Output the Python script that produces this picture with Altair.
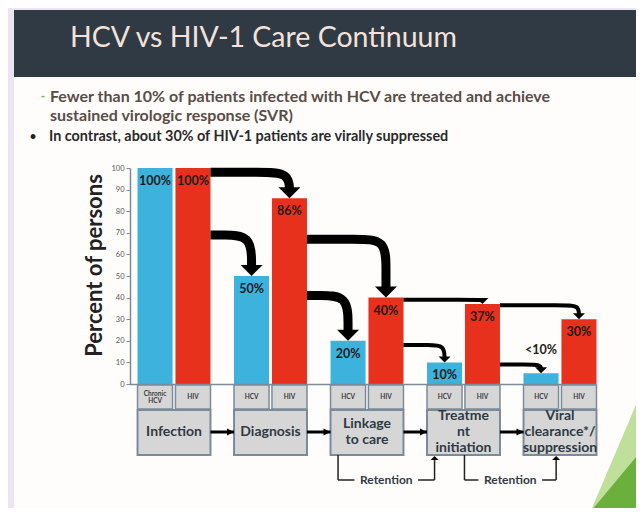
import altair as alt
import pandas as pd

# ---------------- data ----------------
stages = ["Infection", "Diagnosis", "Linkage\nto care", "Treatme\nnt\ninitiation",
          "Viral\nclearance*/\nsuppression"]
hcv_values = [100, 50, 20, 10, 5]
hiv_values = [100, 86, 40, 37, 30]
hcv_labels = ["100%", "50%", "20%", "10%", "<10%"]
hiv_labels = ["100%", "86%", "40%", "37%", "30%"]
hcv_tags = ["Chronic\nHCV", "HCV", "HCV", "HCV", "HCV"]
hiv_tags = ["HIV", "HIV", "HIV", "HIV", "HIV"]
# percent level at which each arrow leaves the HIV bar of a stage
arrow_hiv_levels = [98, 67, 39, 36.5]
arrow_hcv_levels = [69, 41, 18, 9]
retention_from = [2, 3]
retention_to = [3, 4]
retention_text = ["Retention", "Retention"]
title_text = "HCV vs HIV-1 Care Continuum"
bullet_lines = [
    "Fewer than 10% of patients infected with HCV are treated and achieve",
    "sustained virologic response (SVR)",
    "In contrast, about 30% of HIV-1 patients are virally suppressed",
]
y_ticks = list(range(0, 101, 10))

# ---------------- layout / style ----------------
FONT = "Lato"
BLUE = "#3db2dc"
RED = "#e8311d"
BOXFILL = "#d6d6d6"
BOXSTROKE = "#7b8b99"
LAVENDER = "#ece4f2"
HEADER = "#2f3a44"
PANEL = "#fffdfb"

OX, OY = 130, 168          # page position of the plot origin
W, H = 470, 216
PXX = 96.5                 # px per stage
PXY = H / 100.0            # px per percent
XMIN = -44 / PXX
XMAX = XMIN + W / PXX
HALF = 0.378
GAP = 0.015
STAGE_LH = 16
TAG_LH = 7


def px(x):
    return x - OX


def py(y):
    return y - OY


xs = alt.Scale(domain=[XMIN, XMAX], nice=False, zero=False)
ys = alt.Scale(domain=[0, 100], nice=False, zero=False)
one = pd.DataFrame({"a": [0]})

# ---------------- tables ----------------
rows = []
for i in range(5):
    rows.append(dict(stage=i, virus="HCV", x0=i - HALF, x1=i - GAP, value=hcv_values[i],
                     label=hcv_labels[i], tag=hcv_tags[i]))
    rows.append(dict(stage=i, virus="HIV", x0=i + GAP, x1=i + HALF, value=hiv_values[i],
                     label=hiv_labels[i], tag=hiv_tags[i]))
bars_df = pd.DataFrame(rows)
bars_df["xm"] = (bars_df["x0"] + bars_df["x1"]) / 2
bars_df["base"] = 0
bars_df["ty"] = [py(397) - (t.count("\n")) * TAG_LH / 2 for t in bars_df["tag"]]

stage_df = pd.DataFrame({"i": list(range(5)), "stage": stages})
stage_df["x0"] = stage_df["i"] - HALF
stage_df["x1"] = stage_df["i"] + HALF
stage_df["ty"] = [py(432) - s.count("\n") * STAGE_LH / 2 for s in stages]

link_df = pd.DataFrame({"i": list(range(4))})
link_df["x0"] = link_df["i"] + HALF
link_df["x1"] = link_df["i"] + 1 - HALF

# curved care-continuum arrows
line_rows, head_rows = [], []
aid = 0
for i in range(4):
    thick = i < 2
    w = 9 if thick else 4
    c = 30 if thick else 16
    hr = 5.5 if thick else 3
    xstart = i + HALF
    for y0, xc, ye in [
        (arrow_hiv_levels[i], i + 1 + (GAP + HALF) / 2, hiv_values[i + 1]),
        (arrow_hcv_levels[i], i + 1 - (GAP + HALF) / 2, hcv_values[i + 1]),
    ]:
        yend = min(ye + hr / PXY, y0 - 0.3)
        ycorner = max(y0 - c / PXY, yend)
        pts = [(xstart, y0), (xc - c / PXX, y0), (xc, y0), (xc, ycorner), (xc, yend)]
        for k, (x, y) in enumerate(pts):
            line_rows.append(dict(id=aid, k=k, x=x, y=y, w=w))
        head_rows.append(dict(id=aid, x=xc, y=ye, thick=thick))
        aid += 1
lines_df = pd.DataFrame(line_rows)
heads_df = pd.DataFrame(head_rows)

ret_df = pd.DataFrame({"a": retention_from, "b": retention_to, "t": retention_text})
ret_df["xa"] = ret_df["a"] + pd.Series([-0.30, 0.01])
ret_df["xb"] = ret_df["b"] + pd.Series([-0.30, -0.04])
ret_df["xm"] = (ret_df["xa"] + ret_df["xb"]) / 2
ret_df["tl"] = ret_df["xm"] - 0.33
ret_df["tr"] = ret_df["xm"] + 0.33

yaxis = alt.Axis(values=y_ticks, title="Percent of persons", titleFont=FONT, titleFontSize=22,
                 titleFontWeight="bold", titleColor="#222222", titlePadding=4, titleY=97,
                 labelFont=FONT, labelFontSize=7.5, labelColor="#555555", labelPadding=2,
                 tickSize=4, tickColor=BOXSTROKE, domainColor=BOXSTROKE, domainWidth=1.5,
                 grid=False, zindex=2)

# ---------------- slide decoration ----------------
panel = alt.Chart(one).mark_rect(color=PANEL).encode(
    x=alt.value(px(14)), x2=alt.value(px(650)), y=alt.value(py(77)), y2=alt.value(py(520)))
header = alt.Chart(one).mark_rect(color=HEADER).encode(
    x=alt.value(px(14)), x2=alt.value(px(650)), y=alt.value(py(10)), y2=alt.value(py(77)))
title = alt.Chart(one).mark_text(text=title_text, font=FONT, fontSize=28.5, color="#f4e2da",
                                 align="left", baseline="middle").encode(
    x=alt.value(px(70)), y=alt.value(py(38)))
b1 = alt.Chart(one).mark_text(text=bullet_lines[0], font=FONT, fontSize=16, fontWeight="bold",
                              color="#5a4c46", align="left", baseline="middle").encode(
    x=alt.value(px(50)), y=alt.value(py(97)))
b2 = alt.Chart(one).mark_text(text=bullet_lines[1], font=FONT, fontSize=16, fontWeight="bold",
                              color="#5a4c46", align="left", baseline="middle").encode(
    x=alt.value(px(50)), y=alt.value(py(116)))
b3 = alt.Chart(one).mark_text(text=bullet_lines[2], font=FONT, fontSize=14.4, fontWeight="bold",
                              color="#2a2a2a", align="left", baseline="middle").encode(
    x=alt.value(px(49)), y=alt.value(py(137)))
dash = alt.Chart(one).mark_text(text="-", font=FONT, fontSize=13, fontWeight="bold",
                                color="#7cc46a", align="center", baseline="middle").encode(
    x=alt.value(px(43)), y=alt.value(py(97)))
dot = alt.Chart(one).mark_text(text="\u2022", font=FONT, fontSize=13, color="#222222",
                               align="center", baseline="middle").encode(
    x=alt.value(px(33)), y=alt.value(py(137)))

green_df = pd.DataFrame({"x": [px(592), px(650)], "yl": [py(508), py(372)],
                         "yb": [py(520), py(520)]})
green_df2 = pd.DataFrame({"x": [px(587), px(650)], "yd": [py(516), py(440)],
                          "yb": [py(520), py(520)]})
green_light = alt.Chart(green_df).mark_area(color="#bfe09a", orient="vertical").encode(
    x=alt.X("x:Q", scale=None), y=alt.Y("yl:Q", scale=None), y2="yb:Q")
green_dark = alt.Chart(green_df2).mark_area(color="#6bb03c", orient="vertical").encode(
    x=alt.X("x:Q", scale=None), y=alt.Y("yd:Q", scale=None), y2="yb:Q")

# ---------------- chart ----------------
bars = alt.Chart(bars_df).mark_rect().encode(
    x=alt.X("x0:Q", scale=xs, axis=None), x2="x1:Q",
    y=alt.Y("value:Q", scale=ys, axis=yaxis), y2="base:Q",
    color=alt.Color("virus:N", scale=alt.Scale(domain=["HCV", "HIV"], range=[BLUE, RED]),
                    legend=None))

in_labels = alt.Chart(bars_df).transform_filter("datum.value >= 8").mark_text(
    font=FONT, fontSize=12.5, fontWeight="bold", color="#1c1c1c", baseline="middle", dy=13).encode(
    x=alt.X("xm:Q", scale=xs, axis=None), y=alt.Y("value:Q", scale=ys, axis=None), text="label:N")
out_labels = alt.Chart(bars_df).transform_filter("datum.value < 8").mark_text(
    font=FONT, fontSize=12.5, fontWeight="bold", color="#1c1c1c", baseline="middle", dy=-23).encode(
    x=alt.X("xm:Q", scale=xs, axis=None), y=alt.Y("value:Q", scale=ys, axis=None), text="label:N")

base_rule = alt.Chart(one).transform_calculate(lo=str(XMIN), hi=str(4 + HALF)).mark_rule(
    color=BOXSTROKE, strokeWidth=1.5).encode(
    x=alt.X("lo:Q", scale=xs, axis=None), x2="hi:Q", y=alt.value(py(384.5)))

arrows = alt.Chart(lines_df).mark_line(interpolate="basis", color="black").encode(
    x=alt.X("x:Q", scale=xs, axis=None), y=alt.Y("y:Q", scale=ys, axis=None),
    detail="id:N", order="k:Q", strokeWidth=alt.StrokeWidth("w:Q", scale=None))
DOWN = "M -1 -0.5 L 1 -0.5 L 0 0.5 Z"
UP = "M -1 0.5 L 1 0.5 L 0 -0.5 Z"
RIGHT = "M -1 -1 L -1 1 L 1 0 Z"
heads_thick = alt.Chart(heads_df).transform_filter("datum.thick").mark_point(
    shape=DOWN, size=484, filled=True, color="black", opacity=1, yOffset=-5.5).encode(
    x=alt.X("x:Q", scale=xs, axis=None), y=alt.Y("y:Q", scale=ys, axis=None))
heads_thin = alt.Chart(heads_df).transform_filter("!datum.thick").mark_point(
    shape=DOWN, size=144, filled=True, color="black", opacity=1, yOffset=-3).encode(
    x=alt.X("x:Q", scale=xs, axis=None), y=alt.Y("y:Q", scale=ys, axis=None))

tag_boxes = alt.Chart(bars_df).mark_rect(fill=BOXFILL, stroke=BOXSTROKE, strokeWidth=1.5).encode(
    x=alt.X("x0:Q", scale=xs, axis=None), x2="x1:Q", y=alt.value(py(385)), y2=alt.value(py(409)))
tag_text = alt.Chart(bars_df).mark_text(font=FONT, fontSize=6.5, fontWeight="bold", color="#3a3a3a",
                                        lineBreak="\n", lineHeight=TAG_LH, baseline="middle").encode(
    x=alt.X("xm:Q", scale=xs, axis=None), y=alt.Y("ty:Q", scale=None), text="tag:N")

stage_boxes = alt.Chart(stage_df).mark_rect(fill=BOXFILL, stroke=BOXSTROKE, strokeWidth=2).encode(
    x=alt.X("x0:Q", scale=xs, axis=None), x2="x1:Q", y=alt.value(py(410)), y2=alt.value(py(455)))
stage_text = alt.Chart(stage_df).mark_text(font=FONT, fontSize=14, fontWeight="bold", color="#2f3a44",
                                           lineBreak="\n", lineHeight=STAGE_LH, baseline="middle").encode(
    x=alt.X("i:Q", scale=xs, axis=None), y=alt.Y("ty:Q", scale=None), text="stage:N")

link_lines = alt.Chart(link_df).mark_rule(color="black", strokeWidth=3).encode(
    x=alt.X("x0:Q", scale=xs, axis=None), x2="x1:Q", y=alt.value(py(432)))
link_heads = alt.Chart(link_df).mark_point(shape=RIGHT, size=49, filled=True, color="black",
                                           opacity=1, xOffset=-3.5).encode(
    x=alt.X("x1:Q", scale=xs, axis=None), y=alt.value(py(432)))

ret_v1 = alt.Chart(ret_df).mark_rule(color="#222222", strokeWidth=1.5).encode(
    x=alt.X("xa:Q", scale=xs, axis=None), y=alt.value(py(455)), y2=alt.value(py(480)))
ret_v2 = alt.Chart(ret_df).mark_rule(color="#222222", strokeWidth=1.5).encode(
    x=alt.X("xb:Q", scale=xs, axis=None), y=alt.value(py(460)), y2=alt.value(py(480)))
ret_h = alt.Chart(ret_df).mark_rule(color="#222222", strokeWidth=1.5).encode(
    x=alt.X("xa:Q", scale=xs, axis=None), x2="xb:Q", y=alt.value(py(480)))
ret_bg = alt.Chart(ret_df).mark_rect(color=PANEL).encode(
    x=alt.X("tl:Q", scale=xs, axis=None), x2="tr:Q", y=alt.value(py(472)), y2=alt.value(py(488)))
ret_txt = alt.Chart(ret_df).mark_text(font=FONT, fontSize=12, fontWeight="bold", color="#2f3a44",
                                      baseline="middle").encode(
    x=alt.X("xm:Q", scale=xs, axis=None), y=alt.value(py(480)), text="t:N")
ret_heads = alt.Chart(ret_df).mark_point(shape=UP, size=64, filled=True, color="black",
                                         opacity=1, yOffset=2).encode(
    x=alt.X("xb:Q", scale=xs, axis=None), y=alt.value(py(456)))

chart = alt.layer(
    panel, header, title, b1, b2, b3, dash, dot, green_light, green_dark,
    bars, base_rule, tag_boxes, tag_text, stage_boxes, stage_text, link_lines, link_heads,
    ret_v1, ret_v2, ret_h, ret_bg, ret_txt, ret_heads,
    arrows, heads_thick, heads_thin, in_labels, out_labels,
).resolve_scale(x="independent", y="independent").properties(
    width=W, height=H, autosize="none",
    padding={"left": OX - 8, "top": OY - 8, "right": 636 - (OX + W), "bottom": 508 - (OY + H)},
).configure(background=LAVENDER).configure_view(stroke=None)

chart.save("out.html", embed_options={"renderer": "svg", "actions": False})
